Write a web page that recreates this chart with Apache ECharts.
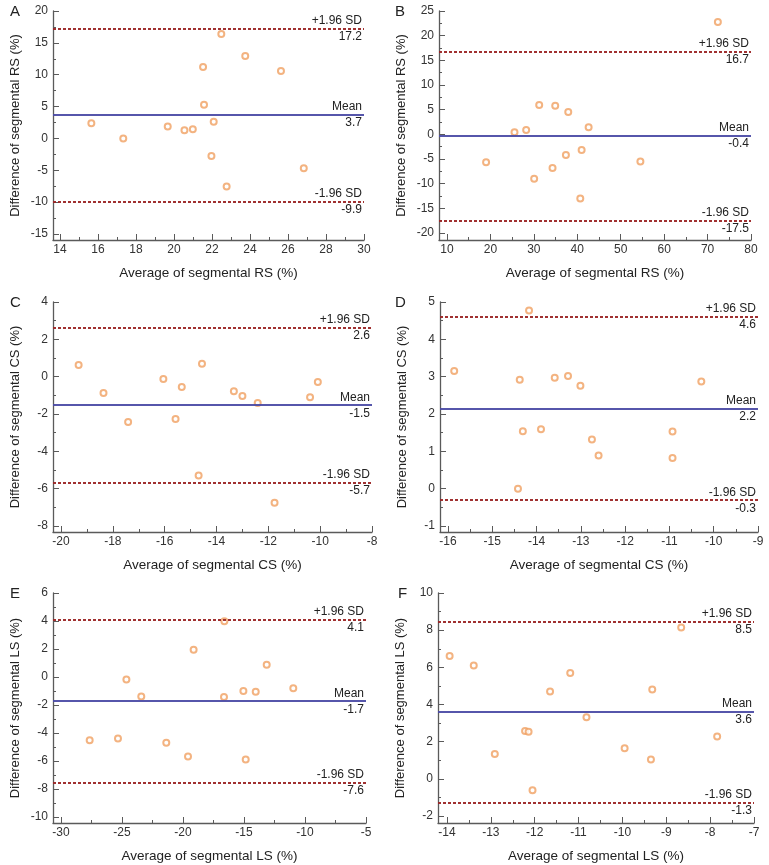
<!DOCTYPE html>
<html>
<head>
<meta charset="utf-8">
<script src="https://cdn.jsdelivr.net/npm/echarts@6/dist/echarts.min.js"></script>
<style>
html, body { margin: 0; padding: 0; background: #fff; }
#main { width: 769px; height: 865px; }
</style>
</head>
<body>
<div id="main"></div>
<script>
// A - radial strain
const avgA = [15.65, 17.33, 19.67, 20.55, 20.99, 21.53, 21.58, 21.97, 22.09, 22.49, 22.77, 23.75, 25.63, 26.83];
const diffA = [2.4, 0.0, 1.87, 1.3, 1.45, 11.2, 5.28, -2.74, 2.6, 16.39, -7.56, 12.93, 10.57, -4.68];
const limitsA = [17.23, 3.71, -9.92];
const limitTextA = ['17.2', '3.7', '-9.9'];
const xTicksA = [14, 16, 18, 20, 22, 24, 26, 28, 30];
const yTicksA = [-15, -10, -5, 0, 5, 10, 15, 20];

// B - radial strain
const avgB = [19.0, 25.54, 28.23, 30.07, 31.23, 34.3, 34.92, 37.38, 37.92, 40.69, 41.0, 42.61, 54.53, 72.37];
const diffB = [-5.65, 0.41, 0.88, -9.02, 5.94, -6.8, 5.8, -4.17, 4.52, -13.0, -3.16, 1.42, -5.52, 22.78];
const limitsB = [16.7, -0.35, -17.5];
const limitTextB = ['16.7', '-0.4', '-17.5'];
const xTicksB = [10, 20, 30, 40, 50, 60, 70, 80];
const yTicksB = [-20, -15, -10, -5, 0, 5, 10, 15, 20, 25];

// C - circumferential strain
const avgC = [-19.32, -18.36, -17.41, -16.05, -15.58, -15.34, -14.69, -14.56, -13.33, -13.0, -12.41, -11.76, -10.39, -10.09];
const diffC = [0.62, -0.87, -2.43, -0.13, -2.27, -0.56, -5.29, 0.69, -0.78, -1.03, -1.41, -6.76, -1.1, -0.28];
const limitsC = [2.63, -1.53, -5.7];
const limitTextC = ['2.6', '-1.5', '-5.7'];
const xTicksC = [-20, -18, -16, -14, -12, -10, -8];
const yTicksC = [-8, -6, -4, -2, 0, 2, 4];

// D - circumferential strain
const avgD = [-15.86, -14.42, -14.38, -14.31, -14.17, -13.9, -13.59, -13.29, -13.01, -12.75, -12.6, -10.93, -10.93, -10.28];
const diffD = [3.15, 0.0, 2.92, 1.54, 4.77, 1.59, 2.97, 3.02, 2.76, 1.32, 0.89, 1.53, 0.82, 2.87];
const limitsD = [4.61, 2.15, -0.31];
const limitTextD = ['4.6', '2.2', '-0.3'];
const xTicksD = [-16, -15, -14, -13, -12, -11, -10, -9];
const yTicksD = [-1, 0, 1, 2, 3, 4, 5];

// E - longitudinal strain
const avgE = [-27.65, -25.33, -24.64, -23.42, -21.37, -19.59, -19.13, -16.61, -16.64, -15.05, -14.86, -14.04, -13.14, -10.96];
const diffE = [-4.52, -4.4, -0.17, -1.4, -4.69, -5.67, 1.95, 3.98, -1.43, -1.0, -5.9, -1.05, 0.88, -0.81];
const limitsE = [4.1, -1.73, -7.55];
const limitTextE = ['4.1', '-1.7', '-7.6'];
const xTicksE = [-30, -25, -20, -15, -10, -5];
const yTicksE = [-10, -8, -6, -4, -2, 0, 2, 4, 6];

// F - longitudinal strain
const avgF = [-13.94, -13.39, -12.91, -12.22, -12.14, -12.05, -11.65, -11.19, -10.82, -9.95, -9.35, -9.32, -8.66, -7.84];
const diffF = [6.61, 6.1, 1.33, 2.58, 2.53, -0.62, 4.7, 5.7, 3.32, 1.64, 1.04, 4.81, 8.14, 2.28];
const limitsF = [8.46, 3.6, -1.28];
const limitTextF = ['8.5', '3.6', '-1.3'];
const xTicksF = [-14, -13, -12, -11, -10, -9, -8, -7];
const yTicksF = [-2, 0, 2, 4, 6, 8, 10];

const panels = [
  { letter: 'A', kind: 'RS', x: avgA, y: diffA, lim: limitsA, limText: limitTextA, xt: xTicksA, yt: yTicksA },
  { letter: 'B', kind: 'RS', x: avgB, y: diffB, lim: limitsB, limText: limitTextB, xt: xTicksB, yt: yTicksB },
  { letter: 'C', kind: 'CS', x: avgC, y: diffC, lim: limitsC, limText: limitTextC, xt: xTicksC, yt: yTicksC },
  { letter: 'D', kind: 'CS', x: avgD, y: diffD, lim: limitsD, limText: limitTextD, xt: xTicksD, yt: yTicksD },
  { letter: 'E', kind: 'LS', x: avgE, y: diffE, lim: limitsE, limText: limitTextE, xt: xTicksE, yt: yTicksE },
  { letter: 'F', kind: 'LS', x: avgF, y: diffF, lim: limitsF, limText: limitTextF, xt: xTicksF, yt: yTicksF }
];

// pixel frame: y-axis line x, first x tick, last x tick, top y tick, bottom y tick, x-axis line y
const frames = [
  [53, 60, 364, 11, 234, 240],
  [439, 447, 751, 11, 233, 240],
  [53, 61, 372, 302, 526, 532],
  [440, 448, 758, 302, 526, 532],
  [53, 61, 366, 593, 817, 823],
  [438, 447, 754, 593, 816, 823]
];
const letterPos = [[10, 4], [395, 4], [10, 295], [395, 295], [10, 586], [398, 586]];

const FONT = '"Liberation Sans", Arial, sans-serif';
const axisColor = '#5a5a5a';
const dashStyle = { color: '#9b2525', width: 1.5, type: [3, 2] };
const meanStyle = { color: '#4b4ba6', width: 1.5, type: 'solid' };

function mids(t) {
  const out = [];
  for (let i = 0; i < t.length - 1; i++) out.push((t[i] + t[i + 1]) / 2);
  return out;
}

const grid = [], xAxis = [], yAxis = [], series = [], title = [];

panels.forEach((p, i) => {
  const [ax, x0, x1, yTop, yBot, ay] = frames[i];
  const xLo = p.xt[0], xHi = p.xt[p.xt.length - 1];
  const yLo = p.yt[0], yHi = p.yt[p.yt.length - 1];
  // axes are drawn a few pixels away from the first tick, like the original
  const xMin = xLo - (x0 - ax) / (x1 - x0) * (xHi - xLo);
  const yMin = yLo - (ay - yBot) / (yBot - yTop) * (yHi - yLo);

  grid.push({ left: ax, top: yTop, width: x1 - ax, height: ay - yTop });

  xAxis.push({
    type: 'value', gridIndex: i, position: 'bottom', min: xMin, max: xHi,
    name: 'Average of segmental ' + p.kind + ' (%)',
    nameLocation: 'middle', nameGap: 26,
    nameTextStyle: { fontSize: 13.5, color: '#222', fontFamily: FONT },
    axisLine: { onZero: false, lineStyle: { color: axisColor, width: 1.3 } },
    axisTick: { inside: true, length: 6, customValues: p.xt, lineStyle: { color: axisColor, width: 1 } },
    axisLabel: { customValues: p.xt, margin: 4, fontSize: 12, color: '#333', fontFamily: FONT },
    splitLine: { show: false }
  });
  xAxis.push({
    type: 'value', gridIndex: i, position: 'bottom', min: xMin, max: xHi,
    axisLine: { show: false, onZero: false },
    axisTick: { inside: true, length: 3, customValues: mids(p.xt), lineStyle: { color: axisColor, width: 1 } },
    axisLabel: { show: false },
    splitLine: { show: false }
  });
  yAxis.push({
    type: 'value', gridIndex: i, position: 'left', min: yMin, max: yHi,
    name: 'Difference of segmental ' + p.kind + ' (%)',
    nameLocation: 'middle', nameGap: 31,
    nameTextStyle: { fontSize: 13, color: '#222', fontFamily: FONT },
    axisLine: { onZero: false, lineStyle: { color: axisColor, width: 1.3 } },
    axisTick: { inside: true, length: 6, customValues: p.yt, lineStyle: { color: axisColor, width: 1 } },
    axisLabel: { customValues: p.yt, margin: 5, fontSize: 12, color: '#333', fontFamily: FONT },
    splitLine: { show: false }
  });
  yAxis.push({
    type: 'value', gridIndex: i, position: 'left', min: yMin, max: yHi,
    axisLine: { show: false, onZero: false },
    axisTick: { inside: true, length: 3, customValues: mids(p.yt), lineStyle: { color: axisColor, width: 1 } },
    axisLabel: { show: false },
    splitLine: { show: false }
  });

  const lbl = (text, pos) => ({
    formatter: text, position: pos, distance: [2, 2],
    fontSize: 12, color: '#222', fontFamily: FONT
  });
  const names = ['+1.96 SD', 'Mean', '-1.96 SD'];
  const mlData = [];
  p.lim.forEach((v, k) => {
    const st = k === 1 ? meanStyle : dashStyle;
    mlData.push({ yAxis: v, lineStyle: st, label: lbl(names[k], 'insideEndTop') });
    mlData.push({ yAxis: v, lineStyle: st, label: lbl(p.limText[k], 'insideEndBottom') });
  });

  series.push({
    type: 'scatter', xAxisIndex: 2 * i, yAxisIndex: 2 * i,
    data: p.x.map((v, k) => [v, p.y[k]]),
    symbol: 'emptyCircle', symbolSize: 6,
    itemStyle: { color: '#f0a062', borderWidth: 1.1 },
    z: 3,
    markLine: { silent: true, symbol: 'none', animation: false, data: mlData }
  });

  title.push({
    text: p.letter, left: letterPos[i][0], top: letterPos[i][1], padding: 0,
    textStyle: { fontSize: 15, fontWeight: 'normal', color: '#222', fontFamily: FONT }
  });
});

const chart = echarts.init(document.getElementById('main'), null, { renderer: 'canvas' });
chart.setOption({
  animation: false,
  backgroundColor: '#fff',
  textStyle: { fontFamily: FONT },
  title: title,
  grid: grid,
  xAxis: xAxis,
  yAxis: yAxis,
  series: series
});
</script>
</body>
</html>
